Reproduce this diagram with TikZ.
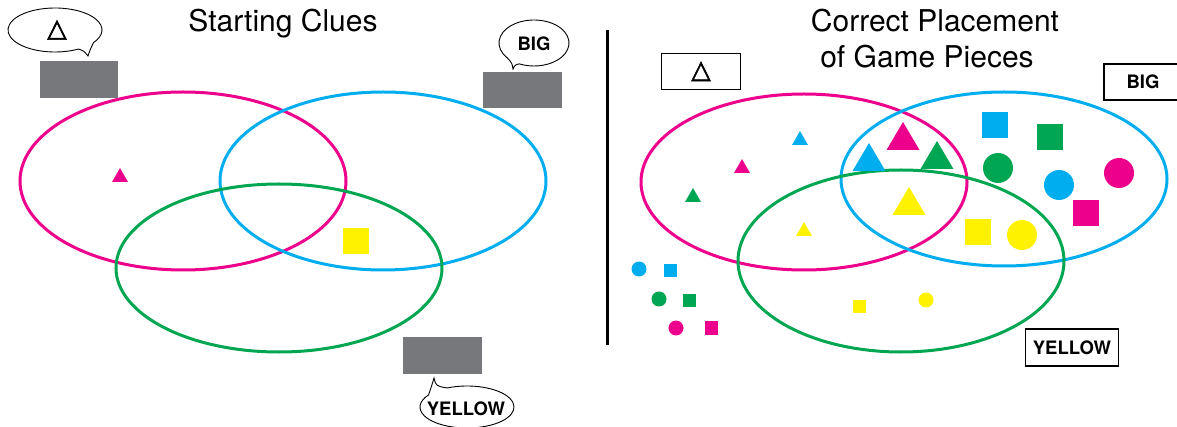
\documentclass[tikz,border=0pt]{standalone}
\usepackage{fontspec}
\setmainfont{TeX Gyre Heros}
\newfontfamily\symfont[FakeBold=2.5]{DejaVu Sans}
\definecolor{cmag}{HTML}{EC008C}
\definecolor{ccyan}{HTML}{00AEEF}
\definecolor{cgreen}{HTML}{00A651}
\definecolor{cyell}{HTML}{FFF200}
\definecolor{cgray}{HTML}{77787B}
\begin{document}
\begin{tikzpicture}[x=1pt,y=-1pt,
  ring/.style={line width=3pt},
  clue/.style={fill=cgray, inner sep=0pt},
  tag/.style={draw, line width=1.8pt, inner sep=0pt, font=\bfseries\fontsize{18.5}{20}\selectfont},
  bubble/.style={draw, fill=white, line width=0.9pt},
  bubtext/.style={font=\bfseries\fontsize{18.5}{20}\selectfont},
  sym/.style={font=\symfont\fontsize{25}{27}\selectfont, inner sep=0pt},
  title/.style={font=\fontsize{30}{36}\selectfont, anchor=base, inner sep=0pt},
  sq/.style={rectangle, inner sep=0pt},
  dot/.style={circle, inner sep=0pt},
  tri/.pic={\path[pic actions] (-0.5,0.5) -- (0.5,0.5) -- (0,-0.5) -- cycle;}
]
\useasboundingbox (0,0) rectangle (1177,427);
\clip (0,0) rectangle (1177,427);

% ---------- left panel: starting clues ----------
\node[title] (t1) at (283,32) {Starting Clues};

\draw[ring, cmag]   (183,181) ellipse [x radius=163, y radius=89];
\draw[ring, ccyan]  (383,181) ellipse [x radius=163, y radius=89];
\draw[ring, cgreen] (279,268) ellipse [x radius=163, y radius=84];

\pic[fill=cmag, xscale=16, yscale=14] at (120,175) {tri};
\node[sq, fill=cyell, minimum size=26pt] (ys) at (356,241) {};

% covered clue cards
\node[clue, minimum width=78pt, minimum height=37pt] (c1) at (79,79.5) {};
\node[clue, minimum width=79pt, minimum height=36pt] (c2) at (522.5,90) {};
\node[clue, minimum width=79pt, minimum height=37pt] (c3) at (442.5,355.5) {};

% speech bubbles with tails
\draw[bubble] (55,30) ++(60:47 and 22)
  arc[start angle=60, end angle=395, x radius=47, y radius=22]
  .. controls (90,50) .. (88,56) .. controls (84,51) .. cycle;
\node[sym] (b1) at (57,30) {△};

\draw[bubble] (534,43) ++(140:35 and 23)
  arc[start angle=140, end angle=475, x radius=35, y radius=23]
  .. controls (515,65) .. (513,69) .. controls (512,63) .. cycle;
\node[bubtext] (b2) at (534,44) {BIG};

\draw[bubble] (467,407) ++(245:47 and 21)
  arc[start angle=245, end angle=575, x radius=47, y radius=21]
  .. controls (431,388) .. (434,378) .. controls (436,386) .. cycle;
\node[bubtext] (b3) at (466,409) {YELLOW};

% divider
\coordinate (d1) at (607,30);
\coordinate (d2) at (607,345);
\draw[line width=3pt] (d1) -- (d2);

% ---------- right panel: correct placement ----------
\node[title] (t2) at (935,32) {Correct Placement};
\node[title] (t3) at (927,68) {of Game Pieces};

\node[tag, minimum width=79pt, minimum height=36pt] (l1) at (701,71.5) {\symfont\mdseries\fontsize{25}{27}\selectfont △};
\node[tag, minimum width=78pt, minimum height=36pt] (l2) at (1143,82) {BIG};
\node[tag, minimum width=93pt, minimum height=37pt] (l3) at (1072,347.5) {YELLOW};

\draw[ring, cmag]   (804,182) ellipse [x radius=163, y radius=88];
\draw[ring, ccyan]  (1004,179) ellipse [x radius=163, y radius=87];
\draw[ring, cgreen] (901,261) ellipse [x radius=163, y radius=91];

% small triangles
\pic[fill=ccyan,  xscale=16, yscale=14] at (800,138) {tri};
\pic[fill=cmag,   xscale=16, yscale=14] at (742,166) {tri};
\pic[fill=cgreen, xscale=16, yscale=14] at (693,195) {tri};
\pic[fill=cyell,  xscale=16, yscale=14] at (804,229) {tri};
% big triangles
\pic[fill=cmag,   xscale=33, yscale=28] at (903,136) {tri};
\pic[fill=ccyan,  xscale=33, yscale=28] at (869,157) {tri};
\pic[fill=cgreen, xscale=33, yscale=28] at (937,155) {tri};
\pic[fill=cyell,  xscale=33, yscale=28] at (909,201) {tri};

% big squares and circles
\node[sq, fill=ccyan,  minimum size=26pt] (q1) at (995,125) {};
\node[sq, fill=cgreen, minimum size=26pt] (q2) at (1050,137) {};
\node[sq, fill=cmag,   minimum size=26pt] (q3) at (1086,213.5) {};
\node[sq, fill=cyell,  minimum size=26pt] (q4) at (978,232.5) {};
\node[dot, fill=cgreen, minimum size=30pt] (o1) at (998,168) {};
\node[dot, fill=ccyan,  minimum size=30pt] (o2) at (1059,185) {};
\node[dot, fill=cmag,   minimum size=30pt] (o3) at (1119,173) {};
\node[dot, fill=cyell,  minimum size=30pt] (o4) at (1022,235) {};

% small squares and circles
\node[sq, fill=cyell, minimum size=13pt] (s1) at (859.5,307) {};
\node[dot, fill=cyell, minimum size=15pt] (p1) at (926,300) {};
\node[dot, fill=ccyan,  minimum size=15pt] (p2) at (639,269) {};
\node[sq,  fill=ccyan,  minimum size=13pt] (s2) at (670,271) {};
\node[dot, fill=cgreen, minimum size=15pt] (p3) at (659,299) {};
\node[sq,  fill=cgreen, minimum size=13pt] (s3) at (689,301) {};
\node[dot, fill=cmag,   minimum size=15pt] (p4) at (676,328) {};
\node[sq,  fill=cmag,   minimum size=13pt] (s4) at (711,328) {};
\end{tikzpicture}
\end{document}
